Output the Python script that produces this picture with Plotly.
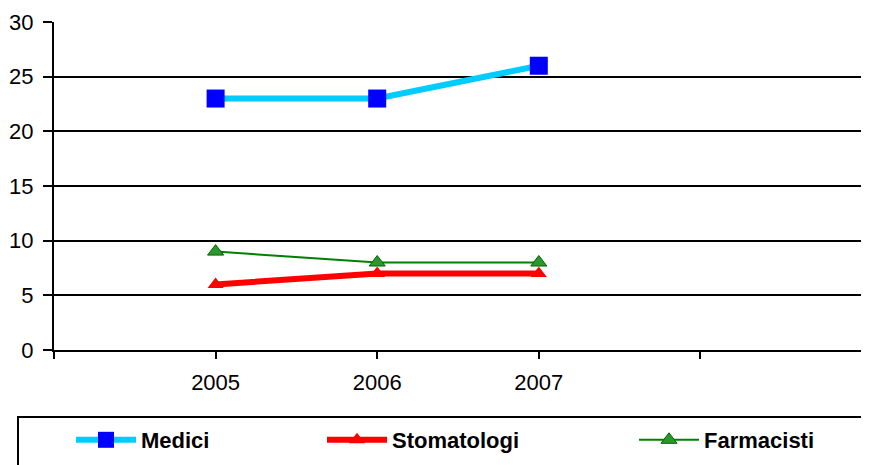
import plotly.graph_objects as go

years = [2005, 2006, 2007]
medici = [23, 23, 26]
stomatologi = [6, 7, 7]
farmacisti = [9, 8, 8]
x_tickvals = [2004, 2005, 2006, 2007, 2008, 2009]
x_ticktext = ["", "2005", "2006", "2007", "", ""]
y_tickvals = [0, 5, 10, 15, 20, 25, 30]

FONT = "Liberation Sans, Arial, sans-serif"

fig = go.Figure()
fig.add_trace(go.Scatter(
    x=years, y=medici, name="Medici", mode="lines+markers", legend="legend",
    line=dict(color="#00CCFF", width=6),
    marker=dict(symbol="square", size=18, color="#0000FF", line=dict(width=0)),
))
fig.add_trace(go.Scatter(
    x=years, y=stomatologi, name="Stomatologi", mode="lines+markers", legend="legend2",
    line=dict(color="#FF0000", width=6),
    marker=dict(symbol="triangle-up", size=14, color="#FF0000", line=dict(width=0)),
))
fig.add_trace(go.Scatter(
    x=years, y=farmacisti, name="Farmacisti", mode="lines+markers", legend="legend3",
    line=dict(color="#008000", width=2),
    marker=dict(symbol="triangle-up", size=14, color="#2E962E", line=dict(width=1, color="#006600")),
))

# page body offset (browser default margin)
OFF = 8
W, H = 869, 465
# plot area in screen pixels
SL, SR, ST, SB = 54, 862, 22, 350
L, T = SL - OFF, ST - OFF
R = W - (SR - OFF)
B = H - (SB - OFF)
pw, ph = SR - SL, SB - ST

def sx(px):
    return (px - SL) / pw

def sy(py):
    return (SB - py) / ph

fig.add_shape(type="rect", xref="paper", yref="paper",
              x0=sx(18), x1=sx(867), y0=sy(417), y1=sy(480),
              line=dict(color="black", width=2), fillcolor="rgba(0,0,0,0)")

def leg(xpx):
    return dict(
        orientation="h", x=sx(xpx), y=sy(419), xanchor="left", yanchor="top",
        font=dict(family=FONT, size=22, color="black", weight="bold"),
        bgcolor="rgba(0,0,0,0)", borderwidth=0, itemwidth=60,
    )

fig.update_layout(
    width=W, height=H,
    margin=dict(l=L, r=R, t=T, b=B, pad=0, autoexpand=False),
    paper_bgcolor="white", plot_bgcolor="white",
    font=dict(family=FONT, size=22, color="black"),
    showlegend=True,
    legend=leg(71),
    legend2=leg(322),
    legend3=leg(634),
    xaxis=dict(
        range=[2004, 2009], tickmode="array", tickvals=x_tickvals, ticktext=x_ticktext,
        showgrid=False, zeroline=False, showline=True, linecolor="black", linewidth=2,
        ticks="outside", ticklen=7, tickwidth=2, tickcolor="black", automargin=False,
        tickfont=dict(family=FONT, size=22), ticklabelstandoff=5,
    ),
    yaxis=dict(
        range=[0, 30], tickmode="array", tickvals=y_tickvals,
        showgrid=True, gridcolor="black", gridwidth=2, zeroline=False,
        showline=True, linecolor="black", linewidth=2, automargin=False,
        ticks="outside", ticklen=9, tickwidth=2, tickcolor="black",
        tickfont=dict(family=FONT, size=22), ticklabelstandoff=5,
    ),
)

fig.write_html("out.html")
